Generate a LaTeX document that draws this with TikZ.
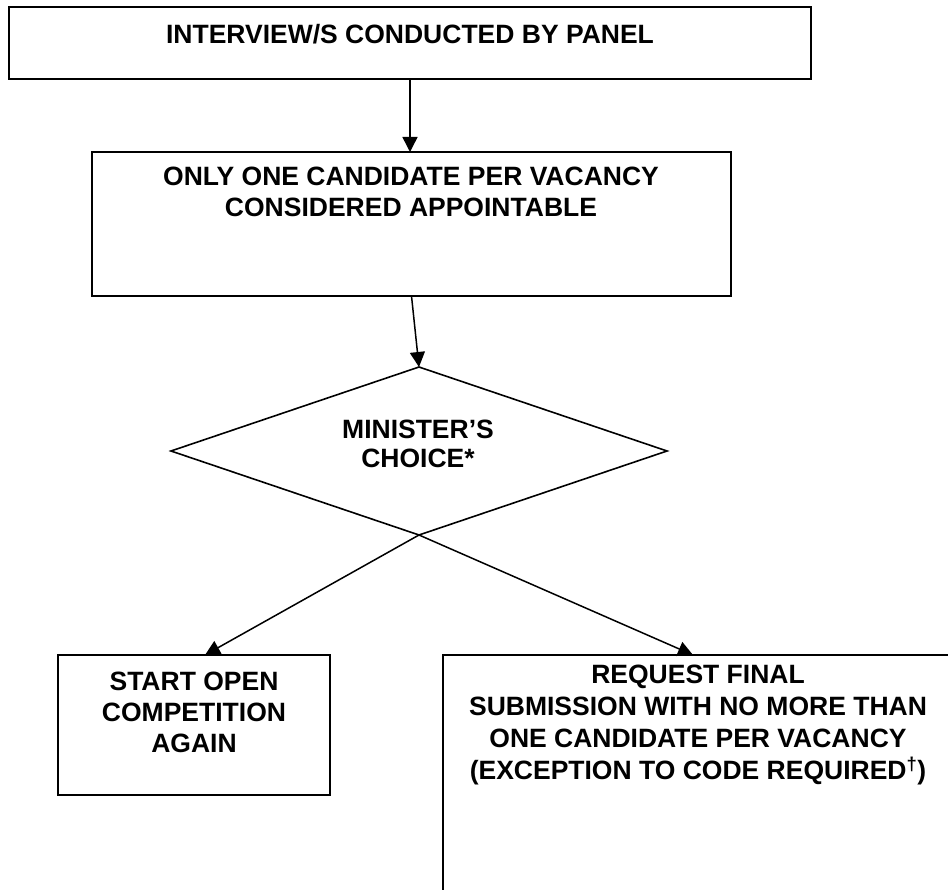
\documentclass[tikz,border=0pt]{standalone}
\usepackage{fontspec}
\setmainfont{Liberation Sans}
\usetikzlibrary{arrows.meta,shapes.geometric}
\tikzset{
  boxnode/.style={draw, line width=1.6pt, rectangle, inner sep=0pt, outer sep=0pt},
  decnode/.style={draw, line width=1.6pt, diamond, inner sep=0pt, outer sep=0pt, aspect=3},
  txt/.style={anchor=north, inner sep=0pt, align=center, font=\bfseries\fontsize{26.5pt}{31pt}\selectfont},
  arr/.style={line width=1.5pt, -{Triangle[length=15pt,width=15pt]}}
}
\begin{document}
\begin{tikzpicture}[x=1pt,y=-1pt]
\useasboundingbox (0,0) rectangle (948,890);
\clip (0,0) rectangle (948,890);
% boxes
\node[boxnode, minimum width=802pt, minimum height=72pt] (b1) at (410,43) {};
\node[boxnode, minimum width=639pt, minimum height=144pt] (b2) at (411.5,224) {};
\node[decnode, minimum width=496pt, minimum height=168pt] (d) at (419,451) {};
\node[boxnode, minimum width=272pt, minimum height=140pt] (lb) at (194,725) {};
\node[boxnode, minimum width=510pt, minimum height=320pt] (rb) at (698,815) {};
% texts
\node[txt] (t1) at (410,24) {INTERVIEW/S CONDUCTED BY PANEL};
\node[txt] (t2) at (411,167) {ONLY ONE CANDIDATE PER VACANCY\\CONSIDERED APPOINTABLE};
\node[txt, font=\bfseries\fontsize{26.5pt}{29pt}\selectfont] (t3) at (418,420) {MINISTER’S\\CHOICE*};
\node[txt] (t4) at (194,672) {START OPEN\\COMPETITION\\AGAIN};
\node[txt, font=\bfseries\fontsize{26.5pt}{32pt}\selectfont] (t5) at (698,665) {REQUEST FINAL\\SUBMISSION WITH NO MORE THAN\\ONE CANDIDATE PER VACANCY\\(EXCEPTION TO CODE REQUIRED\textsuperscript{†})};
% connectors
\draw[arr] (b1.south) -- (b1.south |- b2.north);
\draw[arr] (b2.south) -- (d.north);
\draw[arr] (d.south) -- ([xshift=11pt]lb.north);
\draw[arr] (d.south) -- ([xshift=-5pt]rb.north);
\end{tikzpicture}
\end{document}
